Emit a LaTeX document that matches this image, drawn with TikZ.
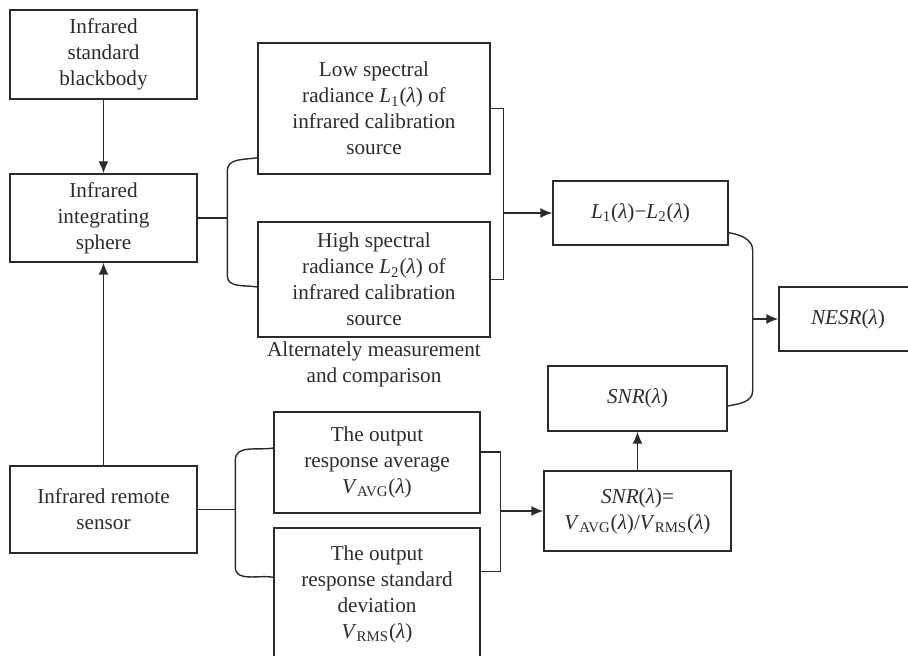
\documentclass[tikz,border=0pt]{standalone}
\usepackage{fontspec}
\setmainfont{Liberation Serif}
\usetikzlibrary{positioning, arrows.meta, calc}
\definecolor{ink}{HTML}{2B2B2B}
\newcommand{\lam}{\textit{λ}}
\newcommand{\Lsub}[1]{\textit{L}\textsubscript{#1}(\lam)}
\newcommand{\Vsub}[1]{\textit{V}\textsubscript{#1}(\lam)}

\begin{document}
\begin{tikzpicture}[x=1pt, y=1pt, node distance=2cm, on grid, auto,
    >={Latex[length=6pt,width=5pt]}, line width=0.7pt, ink,
    every node/.style={font=\fontsize{10.6}{13}\selectfont},
    block/.style={draw, align=center, inner sep=0pt}]
    \useasboundingbox (0,0) rectangle (454,-328);

    % Define blocks
    \node[block, minimum width=93.5pt, minimum height=44.5pt] (bb) at (51.75,-27.25) {Infrared\\standard\\blackbody};
    \node[block, minimum width=93.5pt, minimum height=44pt] (sphere) [below=81.75pt of bb] {Infrared\\integrating\\sphere};
    \node[block, minimum width=93.5pt, minimum height=43.5pt] (sensor) [below=145.75pt of sphere] {Infrared remote\\sensor};
    \node[block, minimum width=116pt, minimum height=65.5pt] (low) [above right=54.75pt and 135.25pt of sphere] {Low spectral\\radiance \Lsub{1} of\\infrared calibration\\source};
    \node[block, minimum width=116pt, minimum height=57.5pt] (high) [below=85.5pt of low] {High spectral\\radiance \Lsub{2} of\\infrared calibration\\source};
    \node[align=center] (alt) [below=42.25pt of high] {Alternately measurement\\and comparison};
    \node[block, minimum width=87.5pt, minimum height=32pt] (diff) [below right=52.25pt and 133.25pt of low] {\Lsub{1}−\Lsub{2}};
    \node[block, minimum width=69pt, minimum height=32pt] (nesr) [below right=53pt and 103.75pt of diff] {\textit{NESR}(\lam)};
    \node[block, minimum width=103pt, minimum height=50.5pt] (avg) [above right=23.5pt and 136.75pt of sensor] {The output\\response average\\\Vsub{AVG}};
    \node[block, minimum width=103pt, minimum height=66pt] (std) [below=65.75pt of avg] {The output\\response standard\\deviation\\\Vsub{RMS}};
    \node[block, minimum width=93.5pt, minimum height=40pt] (snreq) [below right=24.25pt and 130.25pt of avg] {\textit{SNR}(\lam)=\\\Vsub{AVG}/\Vsub{RMS}};
    \node[block, minimum width=89.5pt, minimum height=32.5pt] (snr) [above=56.25pt of snreq] {\textit{SNR}(\lam)};

    % Define connections
    \draw[->] (bb) -- (sphere);
    \draw[->] (sensor) -- (sphere);
    \draw ($(low.south west)+(0,8.5pt)$) to[out=190,in=90] ++(-15pt,-6.5pt) coordinate (sj)
        -- ++(0,-52.5pt) to[out=-90,in=170] ($(high.west)+(0,-3.75pt)$);
    \draw (sphere.east) -- (sphere.east -| sj);
    \draw (low.east) -- ++(6.5pt,0) coordinate (lr) |- (high.east);
    \draw[->] (lr |- diff.west) -- (diff.west);
    \draw ($(diff.south east)+(0,6.5pt)$) to[out=-10,in=90] ++(12pt,-9pt) coordinate (nj)
        -- ++(0,-70pt) to[out=-90,in=10] ($(snr.east)+(0,-3.75pt)$);
    \draw[->] (nj |- nesr.west) -- (nesr.west);
    \draw ($(avg.west)+(0,7.25pt)$) to[out=190,in=90] ++(-19pt,-6pt) coordinate (aj)
        -- ++(0,-53.5pt) to[out=-90,in=170] ($(std.north west)+(0,-25pt)$);
    \draw (sensor.east) -- (sensor.east -| aj);
    \draw ($(avg.east)+(0,5.25pt)$) -- ++(10pt,0) coordinate (vr) |- ($(std.north east)+(0,-22pt)$);
    \draw[->] (vr |- snreq.west) -- (snreq.west);
    \draw[->] (snreq) -- (snr);
\end{tikzpicture}
\end{document}
